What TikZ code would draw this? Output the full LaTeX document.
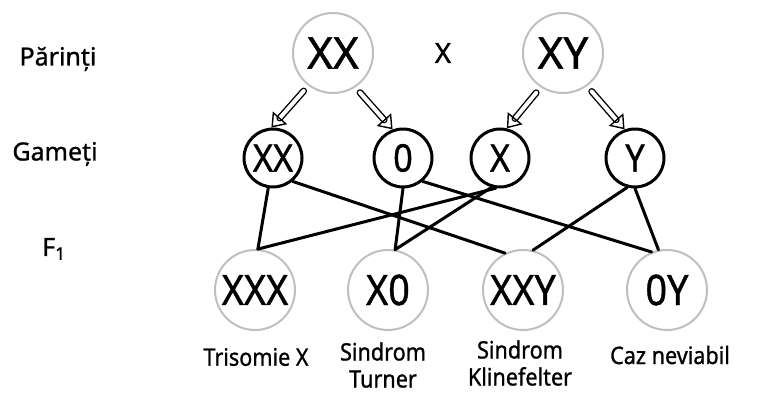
\documentclass[tikz,border=0pt]{standalone}
\usepackage{fontspec}
\setmainfont{Noto Sans}[FakeBold=1]
\newfontfamily\narrowfont{Noto Sans}[FakeBold=1,FakeStretch=0.9]
\usetikzlibrary{arrows.meta}

\tikzset{
  parent/.style={circle,draw=gray!50,line width=2pt,minimum size=80pt,inner sep=0pt,
    font=\fontsize{44}{44}\selectfont},
  gamete/.style={circle,draw=black,line width=3pt,minimum size=58pt,inner sep=0pt,
    font=\narrowfont\fontsize{38}{38}\selectfont},
  child/.style={circle,draw=gray!50,line width=2pt,minimum size=80pt,inner sep=0pt,
    font=\narrowfont\fontsize{42}{42}\selectfont},
  rowlabel/.style={font=\fontsize{25}{25}\selectfont},
  caption/.style={font=\narrowfont\fontsize{24}{27}\selectfont,align=center},
  link/.style={line width=3pt},
  gamarrow/.style={double,double distance=4pt,line width=1.4pt,shorten <=7pt,
    -{Triangle[open,length=13pt,width=19pt]}}
}

\begin{document}
\begin{tikzpicture}[x=1pt,y=-1pt,line join=round,line cap=round]
  \useasboundingbox (0,0) rectangle (784,409);
  % row labels
  \node[rowlabel] (lp) at (58,59) {Părinți};
  \node[rowlabel] (lg) at (55,154) {Gameți};
  \node[rowlabel] (lf) at (54,249) {F\textsubscript{1}};
  % parents
  \node[parent] (pxx) at (333,53) {XX};
  \node[parent] (pxy) at (563,53) {XY};
  \node[font=\fontsize{28}{28}\selectfont] (cross) at (443,53) {X};
  % gametes
  \node[gamete] (gxx) at (273,158) {XX};
  \node[gamete] (g0) at (403,158) {0};
  \node[gamete] (gx) at (500,158) {X};
  \node[gamete] (gy) at (635,158) {Y};
  % F1
  \node[child] (fxxx) at (255,290) {XXX};
  \node[child] (fx0) at (388,290) {X0};
  \node[child] (fxxy) at (523,290) {XXY};
  \node[child] (f0y) at (667,290) {0Y};
  % captions
  \node[caption] (cxxx) at (256,357) {Trisomie X};
  \node[caption] (cx0) at (383,365) {Sindrom\\Turner};
  \node[caption] (cxxy) at (520,363) {Sindrom\\Klinefelter};
  \node[caption] (c0y) at (670,355) {Caz neviabil};
  % parents -> gametes
  \draw[gamarrow] (pxx.233) -- (gxx.93);
  \draw[gamarrow] (pxx.303) -- (g0.110);
  \draw[gamarrow] (pxy.237) -- (gx.77);
  \draw[gamarrow] (pxy.306) -- (gy.110);
  % gametes -> F1
  \draw[link] (gxx.-99) -- (fxxx.86);
  \draw[link] (gxx.-50) -- (fxxy.116);
  \draw[link] (g0.-90) -- (fx0.80);
  \draw[link] (g0.-50) -- (f0y.112);
  \draw[link] (gx.-98) -- (fxxx.86);
  \draw[link] (gx.-106) -- (fx0.80);
  \draw[link] (gy.-105) -- (fxxy.76);
  \draw[link] (gy.-90) -- (f0y.102);
\end{tikzpicture}
\end{document}
